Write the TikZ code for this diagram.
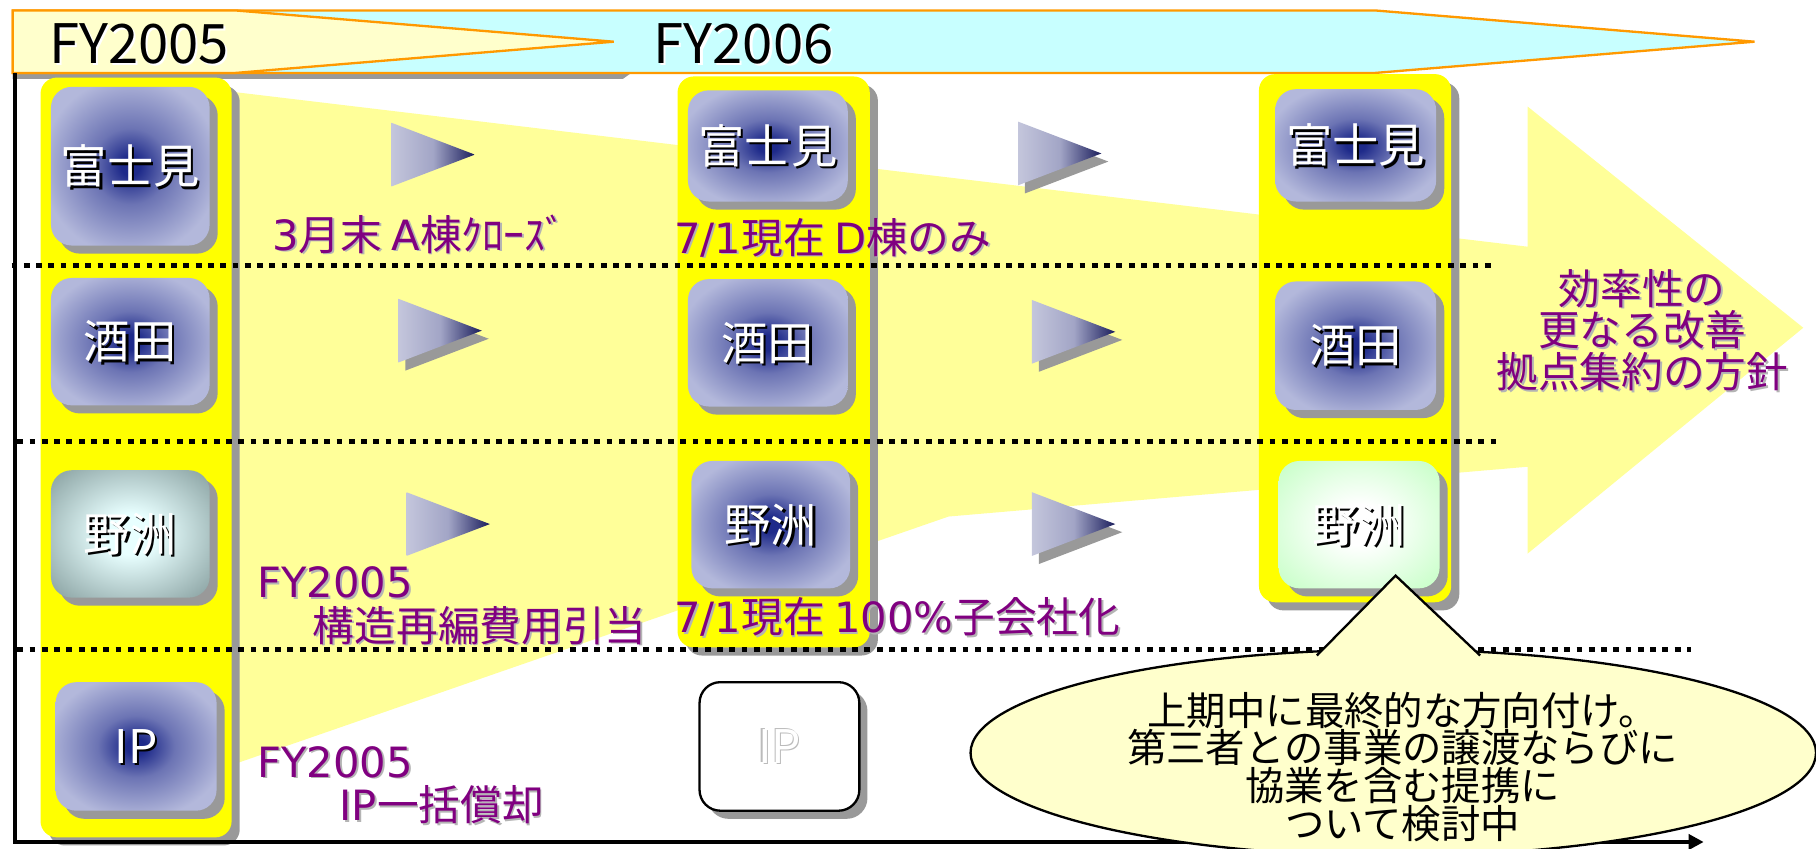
\documentclass[tikz,border=0pt]{standalone}
\usepackage{fontspec}
\setmainfont{Noto Sans CJK JP}
\newfontfamily\latf{DejaVu Sans}
\usetikzlibrary{shadows,shapes.geometric,arrows.meta}

\definecolor{bandcyan}{HTML}{C8FFFF}
\definecolor{bandyellow}{HTML}{FFFFCC}
\definecolor{bandorange}{HTML}{FF9900}
\definecolor{colyellow}{HTML}{FFFF00}
\definecolor{bigyellow}{HTML}{FFFF99}
\definecolor{shadowgray}{HTML}{999999}
\definecolor{bxin}{HTML}{1E2A8A}
\definecolor{bxmid}{HTML}{6C74B4}
\definecolor{bxout}{HTML}{B3B8DB}
\definecolor{tlin}{HTML}{E8FFFF}
\definecolor{tlout}{HTML}{93ABAB}
\definecolor{grin}{HTML}{FFFFFF}
\definecolor{grout}{HTML}{C8FFC8}
\definecolor{arrlight}{HTML}{C4C6DC}
\definecolor{arrmid}{HTML}{A2A5C6}
\definecolor{arrdark}{HTML}{1A1D5C}
\definecolor{labpurple}{HTML}{800080}
\definecolor{labshadow}{HTML}{B4B4B4}
\definecolor{callfill}{HTML}{FFFFCC}
\definecolor{ipgray}{HTML}{BBBBBB}

\pgfdeclareradialshading{navyshade}{\pgfpoint{0bp}{0bp}}{color(0bp)=(bxin); color(3bp)=(bxin); color(12bp)=(bxmid); color(28bp)=(bxout); color(50bp)=(bxout)}
\pgfdeclareradialshading{tealshade}{\pgfpoint{0bp}{0bp}}{color(0bp)=(tlin); color(8bp)=(tlin); color(32bp)=(tlout); color(50bp)=(tlout)}
\pgfdeclareradialshading{greenshade}{\pgfpoint{0bp}{0bp}}{color(0bp)=(grin); color(8bp)=(grin); color(34bp)=(grout); color(50bp)=(grout)}

\newcommand\boxtext[3]{%
  \node[sitetextshadow,xshift=2pt,yshift=-2pt] (#1s) at (#2) {#3};
  \node[sitetext] (#1) at (#2) {#3};}
\newcommand\plabel[3]{%
  \node[plabs,xshift=1.5pt,yshift=-1.5pt] (#1s) at (#2) {#3};
  \node[plab] (#1) at (#2) {#3};}

\begin{document}
\begin{tikzpicture}[x=1pt,y=-1pt,
  shadowed/.style={drop shadow={shadow xshift=7pt,shadow yshift=-7pt,fill=shadowgray,opacity=1}},
  colband/.style={shadowed,fill=colyellow,rounded corners=14pt,inner sep=0pt,outer sep=0pt},
  site/.style={shadowed,rounded corners=18pt,inner sep=0pt,outer sep=0pt},
  navysite/.style={site,shade,shading=navyshade},
  tealsite/.style={site,shade,shading=tealshade},
  greensite/.style={site,shade,shading=greenshade},
  whitesite/.style={site,fill=white,draw=black,line width=2pt},
  sitetext/.style={text=white,font=\fontsize{40}{44}\selectfont,inner sep=0pt},
  sitetextshadow/.style={sitetext,text=black},
  plab/.style={text=labpurple,font=\fontsize{36}{40}\selectfont,inner sep=0pt,anchor=west},
  plabs/.style={plab,text=labshadow},
  hdr/.style={font=\fontsize{47}{52}\selectfont,inner sep=0pt},
  dotsep/.style={line width=4.5pt,dash pattern=on 5pt off 5.6pt}
]
\useasboundingbox (0,0) rectangle (1568,733);

% big background arrow
\fill[bigyellow] (190,78) -- (1319,213) -- (1319,92) -- (1557,283) -- (1319,478)
  -- (1319,403) -- (819,446) -- (190,664) -- cycle;

% header band
\fill[shadowgray] (11,63) -- (545,63) -- (538,68) -- (11,68) -- cycle;
\filldraw[fill=bandcyan,draw=bandorange,line width=2pt] (11,9) -- (1187,9) -- (1515,36) -- (1187,63) -- (11,63) -- cycle;
\filldraw[fill=bandyellow,draw=bandorange,line width=2pt] (11,9) -- (203,9) -- (530,36) -- (203,63) -- (11,63) -- cycle;
\node[hdr,text=white,xshift=2pt,yshift=-2pt] (fy5s) at (120,38) {FY2005};
\node[hdr] (fy5) at (120,38) {FY2005};
\node[hdr,text=white,xshift=2pt,yshift=-2pt] (fy6s) at (642,38) {FY2006};
\node[hdr] (fy6) at (642,38) {FY2006};

% columns
\node[colband,minimum width=165pt,minimum height=656pt] (col1) at (117.5,395) {};
\node[colband,minimum width=166pt,minimum height=493pt] (col2) at (668,312.5) {};
\node[colband,minimum width=166pt,minimum height=456pt] (col3) at (1170,292) {};

% dotted separators
\draw[dotsep] (10,229) -- (1289,229);
\draw[dotsep] (15,381) -- (1293,381);
\draw[dotsep] (15,561) -- (1460,561);

% site boxes
\node[navysite,minimum width=137pt,minimum height=137pt] (fuji1) at (112.5,143.5) {};
\node[navysite,minimum width=137pt,minimum height=110pt] (saka1) at (112.5,295) {};
\node[tealsite,minimum width=137pt,minimum height=110pt] (yasu1) at (112.5,461) {};
\node[navysite,minimum width=139pt,minimum height=111pt] (ip1) at (117.5,644.5) {};
\node[navysite,minimum width=138pt,minimum height=96pt] (fuji2) at (663,126) {};
\node[navysite,minimum width=138pt,minimum height=110pt] (saka2) at (663,296) {};
\node[navysite,minimum width=137pt,minimum height=110pt] (yasu2) at (665.5,453) {};
\node[whitesite,minimum width=138pt,minimum height=111pt] (ip2) at (673,644.5) {};
\node[navysite,minimum width=139pt,minimum height=97pt] (fuji3) at (1170.5,125.5) {};
\node[navysite,minimum width=139pt,minimum height=111pt] (saka3) at (1170.5,298.5) {};
\node[greensite,minimum width=139pt,minimum height=110pt] (yasu3) at (1173.5,453) {};

\boxtext{tfuji1}{fuji1.center}{富士見}
\boxtext{tsaka1}{saka1.center}{酒田}
\boxtext{tyasu1}{yasu1.center}{野洲}
\boxtext{tip1}{ip1.center}{IP}
\boxtext{tfuji2}{fuji2.center}{富士見}
\boxtext{tsaka2}{saka2.center}{酒田}
\boxtext{tyasu2}{yasu2.center}{野洲}
\boxtext{tfuji3}{fuji3.center}{富士見}
\boxtext{tsaka3}{saka3.center}{酒田}
\boxtext{tyasu3}{yasu3.center}{野洲}
\node[sitetext,text=ipgray,xshift=1.2pt,yshift=-1.2pt] (tip2a) at (ip2.center) {IP};
\node[sitetext,text=ipgray,xshift=-1.2pt,yshift=1.2pt] (tip2b) at (ip2.center) {IP};
\node[sitetext] (tip2) at (ip2.center) {IP};

% transition triangles
\foreach \px/\py/\sh in {338/106/0, 879/105/1, 344/258/1, 891/259/1, 351/425/0, 891/425/1} {
  \begin{scope}[shift={(\px,\py)}]
    \ifnum\sh=1 \fill[shadowgray] (6,7) -- (78,34.5) -- (6,62) -- cycle; \fi
    \shade[left color=arrlight,right color=arrdark,middle color=arrmid] (0,0) -- (72,27.5) -- (0,55) -- cycle;
  \end{scope}
}

% purple labels
\plabel{l1}{235,202}{{\latf 3}月末 {\latf A}棟ｸﾛｰｽﾞ}
\plabel{l2}{582,205}{{\latf 7/1}現在 {\latf D}棟のみ}
\plabel{l3}{222,503}{{\latf FY2005}}
\plabel{l4}{270,540}{構造再編費用引当}
\plabel{l5}{582,533}{{\latf 7/1}現在 {\latf 100\%}子会社化}
\plabel{l6}{222,658}{{\latf FY2005}}
\plabel{l7}{293,695}{{\latf IP}一括償却}
\node[plabs,anchor=center,align=center,font=\fontsize{36}{36}\selectfont,xshift=1.5pt,yshift=-1.5pt] (goals) at (1418,285) {効率性の\\更なる改善\\拠点集約の方針};
\node[plab,anchor=center,align=center,font=\fontsize{36}{36}\selectfont] (goal) at (1418,285) {効率性の\\更なる改善\\拠点集約の方針};

% axes
\coordinate (ytop) at (13,63);
\coordinate (orig) at (13,727);
\coordinate (xend) at (1471,727);
\draw[line width=4pt,-{Triangle[length=13pt,width=13pt]}] (ytop) -- (orig) -- (xend);

% callout
\node[draw=black,line width=2pt,fill=callfill,ellipse,minimum width=730pt,minimum height=178pt,inner sep=0pt] (bubble) at (1203,650) {};
\coordinate (pl) at (1137,566);
\coordinate (ptip) at (1205,497);
\coordinate (pr) at (1278,566);
\fill[callfill] (pl) -- (ptip) -- (pr) -- cycle;
\draw[line width=2pt] (pl) -- (ptip) -- (pr);
\node[align=center,font=\fontsize{34}{32.5}\selectfont,inner sep=0pt] (btext) at (1211,662) {上期中に最終的な方向付け。\\第三者との事業の譲渡ならびに\\協業を含む提携に\\ついて検討中};
\end{tikzpicture}
\end{document}
